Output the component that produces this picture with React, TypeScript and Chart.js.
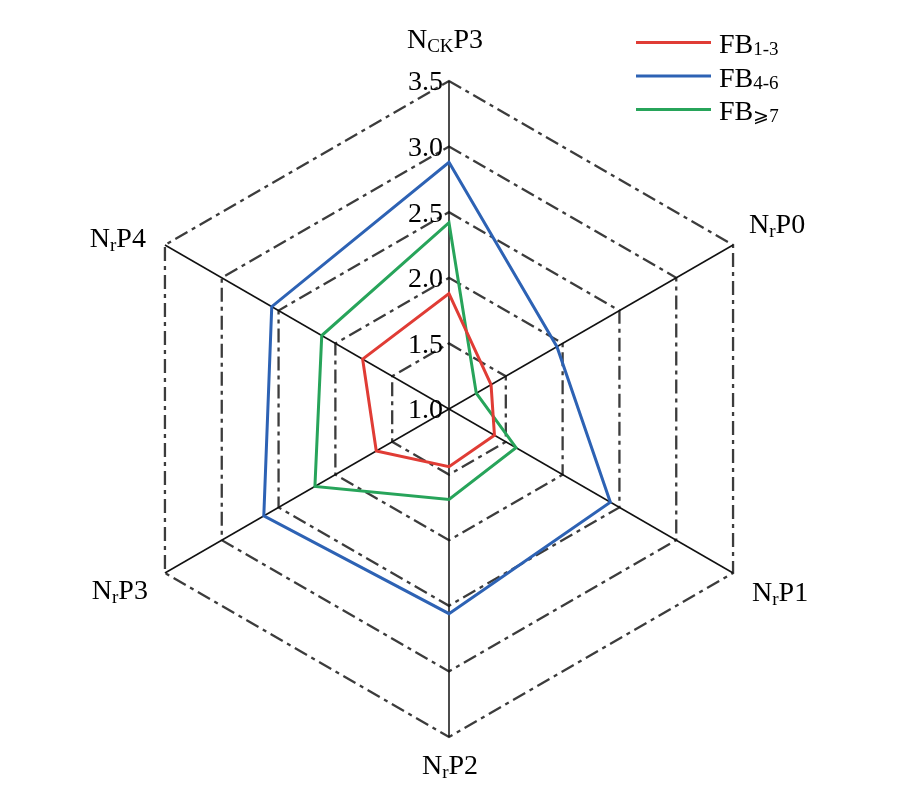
import React, { useEffect, useRef } from "react";
import { Chart, registerables } from "chart.js";

Chart.register(...registerables);

// categories (plain) and their rich-text parts: [text, isSubscript]
const categories = ["NCKP3", "NrP0", "NrP1", "NrP2", "NrP3", "NrP4"];
const categoryParts: [string, boolean][][] = [
  [["N", false], ["CK", true], ["P3", false]],
  [["N", false], ["r", true], ["P0", false]],
  [["N", false], ["r", true], ["P1", false]],
  [["N", false], ["r", true], ["P2", false]],
  [["N", false], ["r", true], ["P3", false]],
  [["N", false], ["r", true], ["P4", false]],
];

const seriesNames = ["FB1-3", "FB4-6", "FB≥7"];
const seriesParts: [string, boolean][][] = [
  [["FB", false], ["1-3", true]],
  [["FB", false], ["4-6", true]],
  [["FB", false], ["⩾7", true]],
];
const seriesColors = ["#E03C35", "#2D62B4", "#27A45A"];

const fb13 = [1.88, 1.37, 1.4, 1.44, 1.64, 1.76];
const fb46 = [2.88, 1.95, 2.42, 2.56, 2.63, 2.56];
const fb7 = [2.42, 1.24, 1.59, 1.69, 2.18, 2.12];

const tickValues = [1.0, 1.5, 2.0, 2.5, 3.0, 3.5];

const FONT_FAMILY = '"Liberation Serif", "DejaVu Serif", serif';

function richWidth(ctx: CanvasRenderingContext2D, parts: [string, boolean][], main: number, sub: number) {
  let w = 0;
  for (const [t, s] of parts) {
    ctx.font = `${s ? sub : main}px ${FONT_FAMILY}`;
    w += ctx.measureText(t).width;
  }
  return w;
}

function drawRich(
  ctx: CanvasRenderingContext2D,
  parts: [string, boolean][],
  x: number,
  baseline: number,
  align: "left" | "center" | "right",
  main: number,
  sub: number,
  subDrop: number
) {
  const w = richWidth(ctx, parts, main, sub);
  let cx = align === "left" ? x : align === "center" ? x - w / 2 : x - w;
  ctx.textAlign = "left";
  ctx.textBaseline = "alphabetic";
  ctx.fillStyle = "#000";
  for (const [t, s] of parts) {
    ctx.font = `${s ? sub : main}px ${FONT_FAMILY}`;
    ctx.fillText(t, cx, baseline + (s ? subDrop : 0));
    cx += ctx.measureText(t).width;
  }
}

// label placement relative to each vertex: [dx, dy, align]
const labelOffsets: [number, number, "left" | "center" | "right"][] = [
  [-4, -33, "center"],
  [16, -12, "left"],
  [19, 28, "left"],
  [1, 37, "center"],
  [-17, 26, "right"],
  [-19, 2, "right"],
];

const overlayPlugin = {
  id: "overlay",
  afterDraw(chart: any) {
    const ctx: CanvasRenderingContext2D = chart.ctx;
    const scale = chart.scales.r;
    ctx.save();
    // tick labels
    ctx.font = `28px ${FONT_FAMILY}`;
    ctx.fillStyle = "#000";
    ctx.textAlign = "right";
    ctx.textBaseline = "middle";
    for (const v of tickValues) {
      const p = scale.getPointPositionForValue(0, v);
      ctx.fillText(v.toFixed(1), p.x - 6, p.y + 2);
    }
    // point labels
    categoryParts.forEach((parts, i) => {
      const p = scale.getPointPosition(i, scale.drawingArea);
      const [dx, dy, al] = labelOffsets[i];
      drawRich(ctx, parts, p.x + dx, p.y + dy, al, 28, 19, 4);
    });
    // legend
    const lx0 = 636;
    const lx1 = 711;
    const ys = [42.5, 76, 109.5];
    seriesParts.forEach((parts, i) => {
      ctx.strokeStyle = seriesColors[i];
      ctx.lineWidth = 3;
      ctx.beginPath();
      ctx.moveTo(lx0, ys[i]);
      ctx.lineTo(lx1, ys[i]);
      ctx.stroke();
      drawRich(ctx, parts, 719, ys[i] + 10.5, "left", 28, 19, 2);
    });
    ctx.restore();
  },
};

export default function App() {
  const ref = useRef<HTMLCanvasElement | null>(null);
  useEffect(() => {
    if (!ref.current) return;
    const data = [fb13, fb46, fb7];
    const chart = new Chart(ref.current, {
      type: "radar",
      data: {
        labels: categories,
        datasets: data.map((d, i) => ({
          label: seriesNames[i],
          data: d,
          borderColor: seriesColors[i],
          backgroundColor: seriesColors[i],
          borderWidth: 3,
          pointRadius: 0,
          fill: false,
          tension: 0,
        })),
      },
      options: {
        responsive: false,
        animation: false,
        layout: { padding: { left: 121, right: 135, top: 81, bottom: 63 } },
        plugins: { legend: { display: false }, tooltip: { enabled: false } },
        scales: {
          r: {
            min: 1,
            max: 3.5,
            ticks: { display: false, stepSize: 0.5 },
            pointLabels: { display: false },
            grid: { color: "#3c3c3c", lineWidth: 2.3, circular: false },
            border: { dash: [14, 5, 4, 5] },
            angleLines: { color: "#111", lineWidth: 1.5 },
          },
        },
      } as any,
      plugins: [overlayPlugin],
    });
    return () => chart.destroy();
  }, []);
  return (
    <div style={{ position: "absolute", left: 0, top: 0, width: 913, height: 801, background: "#fff" }}>
      <canvas ref={ref} width={913} height={801} />
    </div>
  );
}
